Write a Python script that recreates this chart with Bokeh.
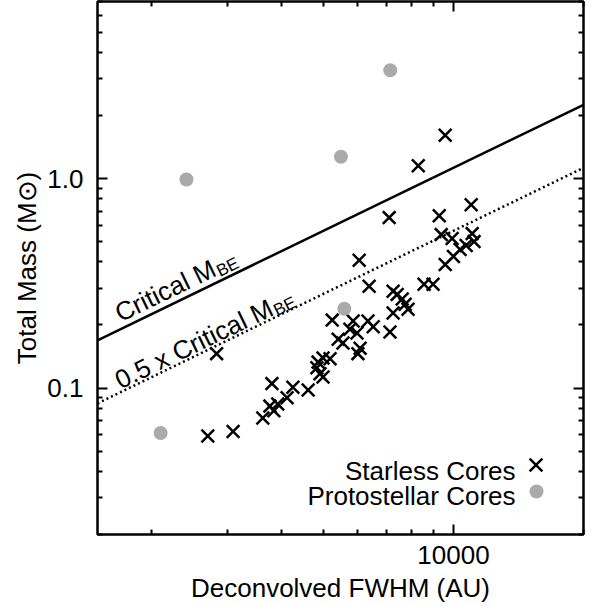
import math
from bokeh.plotting import figure
from bokeh.models import Range1d, FixedTicker, CustomJSTickFormatter, LogAxis, Label
from bokeh.embed import file_html
from bokeh.resources import INLINE

# ---------------- data ----------------
starless_fwhm = [9570, 8290, 7100, 9270, 10990, 9370, 9930, 11050, 11160, 10360,
                 10700, 10000, 9570, 8970, 8550, 6050, 6380, 7250, 7410, 7610,
                 7730, 7850, 7250, 7130, 6520, 6340, 5860, 5240, 5760, 5980,
                 5410, 5550, 6080, 6010, 5180, 4990, 4860, 2830, 4910, 4830,
                 4990, 4610, 4250, 3800, 4120, 3920, 3760, 3840, 3620, 3090, 2700]
starless_mass = [1.61, 1.15, 0.651, 0.665, 0.750, 0.540, 0.517, 0.546, 0.500, 0.459,
                 0.479, 0.425, 0.389, 0.313, 0.313, 0.407, 0.306, 0.290, 0.280, 0.266,
                 0.251, 0.238, 0.228, 0.185, 0.196, 0.209, 0.209, 0.211, 0.191, 0.183,
                 0.171, 0.164, 0.155, 0.146, 0.138, 0.139, 0.133, 0.146, 0.117, 0.125,
                 0.113, 0.098, 0.101, 0.105, 0.090, 0.084, 0.082, 0.078, 0.072, 0.062, 0.059]

proto_fwhm = [7140, 2410, 5490, 5590, 2100]
proto_mass = [3.29, 0.99, 1.27, 0.239, 0.061]

bes_fwhm = [1500, 20000]
bes_mass = [0.169, 2.25]
half_bes_mass = [0.0845, 1.125]

x_tick_values = [10000]
x_tick_labels = ["10000"]
x_minor_values = [2000, 3000, 4000, 5000, 6000, 7000, 8000, 9000, 20000]
y_tick_values = [0.1, 1.0]
y_tick_labels = ["0.1", "1.0"]
y_minor_values = [0.02, 0.03, 0.04, 0.05, 0.06, 0.07, 0.08, 0.09,
                  0.2, 0.3, 0.4, 0.5, 0.6, 0.7, 0.8, 0.9,
                  2, 3, 4, 5, 6, 7]

x_title = "Deconvolved FWHM (AU)"
y_title = "Total Mass (M\u2299)"
line_label_main = "Critical M"
half_label_main = "0.5 x Critical M"
line_label_sub = "BE"
legend_starless = "Starless Cores"
legend_proto = "Protostellar Cores"

# ---------------- layout ----------------
XMIN, XMAX, YMIN, YMAX = 1500, 20000, 0.02, 7
FW, FH = 486, 533
FONT = "Liberation Sans"
FS = 26

p = figure(frame_width=FW, frame_height=FH,
           x_axis_type="log", y_axis_type="log",
           x_range=Range1d(XMIN, XMAX), y_range=Range1d(YMIN, YMAX),
           output_backend="svg", toolbar_location=None,
           min_border_left=97, min_border_top=1,
           min_border_right=14, min_border_bottom=0)
p.xgrid.grid_line_color = None
p.ygrid.grid_line_color = None
p.outline_line_color = "black"
p.outline_line_width = 2
p.background_fill_color = "white"
p.border_fill_color = "white"


def fmt(vals, labs):
    return CustomJSTickFormatter(args=dict(vals=vals, labs=labs), code="""
        for (let i = 0; i < vals.length; i++) {
            if (Math.abs(Math.log10(tick) - Math.log10(vals[i])) < 1e-6) return labs[i];
        }
        return '';
    """)


def style(ax, ticks, minors, vals, labs, show):
    ax.ticker = FixedTicker(ticks=ticks, minor_ticks=minors)
    ax.formatter = fmt(vals, labs if show else ["" for _ in labs])
    ax.major_tick_in = 10
    ax.major_tick_out = 0
    ax.minor_tick_in = 5
    ax.minor_tick_out = 0
    ax.major_tick_line_width = 2
    ax.minor_tick_line_width = 2
    ax.axis_line_width = 2
    ax.major_tick_line_color = "black"
    ax.minor_tick_line_color = "black"
    ax.axis_line_color = "black"
    ax.major_label_text_font = FONT
    ax.major_label_text_color = "black"
    ax.major_label_text_font_size = f"{FS}px" if show else "0px"


def style_title(ax, text, standoff):
    ax.axis_label = text
    ax.axis_label_text_font = FONT
    ax.axis_label_text_font_size = f"{FS}px"
    ax.axis_label_text_font_style = "normal"
    ax.axis_label_text_color = "black"
    ax.axis_label_standoff = standoff


style(p.xaxis[0], x_tick_values, x_minor_values, x_tick_values, x_tick_labels, True)
style(p.yaxis[0], y_tick_values, y_minor_values, y_tick_values, y_tick_labels, True)
p.xaxis[0].major_label_standoff = 11
p.yaxis[0].major_label_standoff = 14
style_title(p.xaxis[0], x_title, 6)
style_title(p.yaxis[0], y_title, 2)

top_ax = LogAxis()
style(top_ax, x_tick_values, x_minor_values, x_tick_values, x_tick_labels, False)
p.add_layout(top_ax, "above")
right_ax = LogAxis()
style(right_ax, y_tick_values, y_minor_values, y_tick_values, y_tick_labels, False)
p.add_layout(right_ax, "right")

# ---------------- glyphs ----------------
p.line(bes_fwhm, bes_mass, line_color="black", line_width=2.5)
p.line(bes_fwhm, half_bes_mass, line_color="black", line_width=2.5, line_dash="2 3")
p.scatter(starless_fwhm, starless_mass, marker="x", size=18,
          line_color="black", line_width=2.5)
p.scatter(proto_fwhm, proto_mass, marker="circle", size=14,
          fill_color="#aaaaaa", line_color=None)

# ---------------- annotation helpers ----------------
LX = math.log10(XMAX / XMIN)
LY = math.log10(YMAX / YMIN)


def ref_to_data(rx, ry):
    fx = (rx - 97) / 486.0
    fy = (ry - 1.5) / 532.5
    x = 10 ** (math.log10(XMIN) + fx * LX)
    y = 10 ** (math.log10(YMAX) - fy * LY)
    return x, y


slope = math.log10(bes_mass[1] / bes_mass[0]) / math.log10(bes_fwhm[1] / bes_fwhm[0])
theta = math.atan(slope * (FH / LY) / (FW / LX))


def sloped_label(rx, ry, main, width_em):
    x, y = ref_to_data(rx, ry)
    p.add_layout(Label(x=x, y=y, text=main, angle=theta, text_font=FONT,
                       text_font_size=f"{FS}px", text_color="black",
                       text_align="left", text_baseline="alphabetic"))
    w = width_em * FS + 1
    d = 6
    p.add_layout(Label(x=x, y=y, text=line_label_sub, angle=theta, text_font=FONT,
                       text_font_size="17px", text_color="black",
                       text_align="left", text_baseline="alphabetic",
                       x_offset=w * math.cos(theta) + d * math.sin(theta),
                       y_offset=w * math.sin(theta) - d * math.cos(theta)))


sloped_label(116, 314, line_label_main, 4.166)
sloped_label(116, 381, half_label_main, 6.612)

# legend (text on the left, key on the right)
for txt, ry in [(legend_starless, 471), (legend_proto, 496)]:
    lx, ly = ref_to_data(515, ry)
    p.add_layout(Label(x=lx, y=ly, text=txt, text_font=FONT,
                       text_font_size=f"{FS}px", text_color="black",
                       text_align="right", text_baseline="alphabetic"))
kx1, ky1 = ref_to_data(535.5, 464.5)
kx2, ky2 = ref_to_data(536, 491)
p.scatter([kx1], [ky1], marker="x", size=18, line_color="black", line_width=2.5)
p.scatter([kx2], [ky2], marker="circle", size=14, fill_color="#aaaaaa", line_color=None)

open("out.html", "w").write(file_html(p, INLINE))
